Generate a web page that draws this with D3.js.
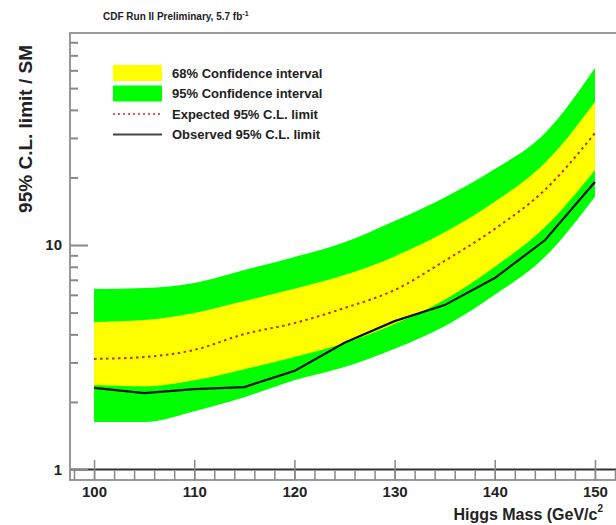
<!DOCTYPE html>
<html>
<head>
<meta charset="utf-8">
<script src="https://cdn.jsdelivr.net/npm/d3@7"></script>
<style>
  body { margin: 0; background: #fff; }
  svg text { font-family: "Liberation Sans", Arial, sans-serif; font-weight: bold; fill: #222; }
</style>
</head>
<body>
<div id="chart"></div>
<script>
/* CDF 95% C.L. limit / SM vs Higgs mass, brazil band plot */

const mass = [100, 105, 110, 115, 120, 125, 130, 135, 140, 145, 150];
const observed = [2.31, 2.19, 2.28, 2.33, 2.75, 3.67, 4.58, 5.40, 7.13, 10.5, 19.1];
const expected = [3.11, 3.17, 3.41, 4.01, 4.49, 5.24, 6.30, 8.50, 11.8, 17.6, 31.5];
const band68Lo = [2.38, 2.35, 2.50, 2.80, 3.17, 3.66, 4.45, 5.70, 8.00, 12.0, 21.6];
const band68Hi = [4.54, 4.63, 4.98, 5.63, 6.38, 7.35, 8.90, 11.4, 15.6, 23.2, 43.4];
const band95Lo = [1.63, 1.63, 1.82, 2.10, 2.50, 2.86, 3.45, 4.35, 6.00, 8.84, 16.4];
const band95Hi = [6.37, 6.43, 6.77, 7.74, 8.85, 10.3, 12.8, 16.3, 21.8, 31.5, 61.4];

const xMajor = [100, 110, 120, 130, 140, 150];
const xMinor = d3.range(98, 153, 2);
const yMajor = [1, 10];
const yMinor = [2, 3, 4, 5, 6, 7, 8, 9, 20, 30, 40, 50, 60, 70, 80];

const legendItems = [
    {label: "68% Confidence interval", type: "box", color: "#ffff00"},
    {label: "95% Confidence interval", type: "box", color: "#00ff00"},
    {label: "Expected 95% C.L. limit", type: "dot", color: "#e02020"},
    {label: "Observed 95% C.L. limit", type: "line", color: "#444"}
];

const width = 616, height = 525,
      margin = ({top: 33, right: -6, bottom: 45, left: 70});

const data = mass.map((m, i) => ({
    m: m, obs: observed[i], exp: expected[i],
    lo68: band68Lo[i], hi68: band68Hi[i], lo95: band95Lo[i], hi95: band95Hi[i]
}));

let svg = d3.select("#chart")
    .append("svg")
    .attr("width", width)
    .attr("height", height);

let x = d3.scaleLinear()
    .domain([97.6, 152.7])
    .range([margin.left, width - margin.right]);

let y = d3.scaleLog()
    .domain([0.898, 88])
    .range([height - margin.bottom, margin.top]);

const curve = d3.curveMonotoneX;

// bands
svg.append("path")
    .datum(data)
    .attr("fill", "#00ff00")
    .attr("d", d3.area().curve(curve).x(d => x(d.m)).y0(d => y(d.lo95)).y1(d => y(d.hi95)));

svg.append("path")
    .datum(data)
    .attr("fill", "#ffff00")
    .attr("d", d3.area().curve(curve).x(d => x(d.m)).y0(d => y(d.lo68)).y1(d => y(d.hi68)));

// expected limit (dotted)
svg.append("path")
    .datum(data)
    .attr("fill", "none")
    .attr("stroke", "#c82a00")
    .attr("stroke-width", 2)
    .attr("stroke-dasharray", "2.5,3.5")
    .attr("d", d3.line().curve(curve).x(d => x(d.m)).y(d => y(d.exp)));

// observed limit
svg.append("path")
    .datum(data)
    .attr("fill", "none")
    .attr("stroke", "#111")
    .attr("stroke-width", 2.2)
    .attr("d", d3.line().x(d => x(d.m)).y(d => y(d.obs)));

// line at limit = 1
svg.append("line")
    .attr("x1", margin.left).attr("x2", width)
    .attr("y1", y(1)).attr("y2", y(1))
    .attr("stroke", "#333")
    .attr("stroke-width", 2);

// frame
svg.append("path")
    .attr("fill", "none")
    .attr("stroke", "#999")
    .attr("stroke-width", 2)
    .attr("d", `M${width},${margin.top}H${margin.left}V${height - margin.bottom}H${width}`);

// y axis
svg.append("g")
    .attr("transform", `translate(${margin.left},0)`)
    .call(d3.axisLeft(y).tickValues(yMinor).tickSize(-8).tickFormat(""))
    .call(g => g.select(".domain").remove())
    .call(g => g.selectAll("line").attr("stroke", "#888").attr("stroke-width", 2));

svg.append("g")
    .attr("transform", `translate(${margin.left},0)`)
    .call(d3.axisLeft(y).tickValues(yMajor).tickSize(-18).tickPadding(8).tickFormat(d3.format("d")))
    .call(g => g.select(".domain").remove())
    .call(g => g.selectAll("line").attr("stroke", "#888").attr("stroke-width", 2))
    .call(g => g.selectAll("text").attr("font-size", 15).attr("font-family", null).attr("fill", "#222"));

// x axis
svg.append("g")
    .attr("transform", `translate(0,${height - margin.bottom})`)
    .call(d3.axisBottom(x).tickValues(xMinor).tickSize(-9).tickFormat(""))
    .call(g => g.select(".domain").remove())
    .call(g => g.selectAll("line").attr("stroke", "#888").attr("stroke-width", 1.5));

svg.append("g")
    .attr("transform", `translate(0,${height - margin.bottom})`)
    .call(d3.axisBottom(x).tickValues(xMajor).tickSize(-20).tickPadding(6).tickFormat(d3.format("d")))
    .call(g => g.select(".domain").remove())
    .call(g => g.selectAll("line").attr("stroke", "#888").attr("stroke-width", 1.5))
    .call(g => g.selectAll("text").attr("font-size", 15).attr("font-family", null).attr("fill", "#222"));

// titles
svg.append("text")
    .attr("x", 103).attr("y", 20)
    .attr("font-size", 10)
    .text("CDF Run II Preliminary, 5.7 fb")
    .append("tspan")
    .attr("dy", -4).attr("font-size", 7)
    .text("-1");

svg.append("text")
    .attr("transform", "translate(32,45) rotate(-90)")
    .attr("text-anchor", "end")
    .attr("font-size", 19)
    .text("95% C.L. limit / SM");

svg.append("text")
    .attr("x", 603).attr("y", 520)
    .attr("text-anchor", "end")
    .attr("font-size", 16)
    .text("Higgs Mass (GeV/c")
    .append("tspan")
    .attr("dy", -8).attr("font-size", 10)
    .text("2");

// legend
let legend = svg.append("g")
    .selectAll("g")
    .data(legendItems)
    .join("g")
    .attr("transform", (d, i) => `translate(113,${73 + i * 20.5})`);

legend.filter(d => d.type === "box").append("rect")
    .attr("x", 0).attr("y", -8)
    .attr("width", 49).attr("height", 16)
    .attr("fill", d => d.color);

legend.filter(d => d.type === "dot").append("line")
    .attr("x1", 0).attr("x2", 49)
    .attr("stroke", d => d.color)
    .attr("stroke-width", 1.5)
    .attr("stroke-dasharray", "2,3");

legend.filter(d => d.type === "line").append("line")
    .attr("x1", 0).attr("x2", 49)
    .attr("stroke", d => d.color)
    .attr("stroke-width", 2);

legend.append("text")
    .attr("x", 59).attr("dy", "0.35em")
    .attr("font-size", 13)
    .text(d => d.label);
</script>
</body>
</html>
